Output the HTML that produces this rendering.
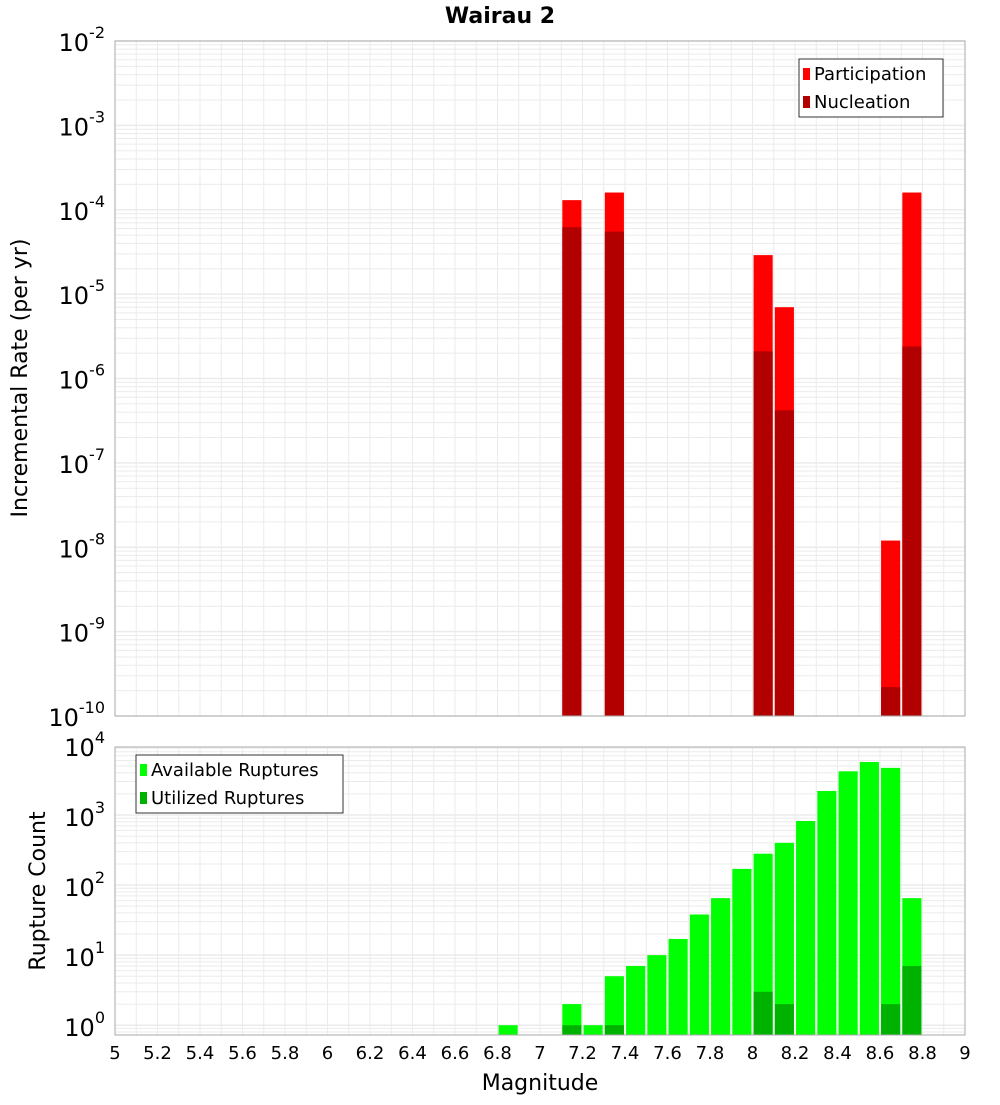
<!DOCTYPE html>
<html><head><meta charset="utf-8"><style>
body{margin:0;background:#fff;}
svg text{font-family:"DejaVu Sans","Liberation Sans",sans-serif;}
</style></head><body>
<svg id="chart" width="1000" height="1100" xmlns="http://www.w3.org/2000/svg">
<text x="500" y="23" text-anchor="middle" font-size="22" font-weight="bold">Wairau 2</text>
<g id="top"></g>
<g id="bot"></g>
<text transform="translate(27,378) rotate(-90)" text-anchor="middle" font-size="22">Incremental Rate (per yr)</text>
<text transform="translate(45,891) rotate(-90)" text-anchor="middle" font-size="22">Rupture Count</text>
<text x="540" y="1090" text-anchor="middle" font-size="22">Magnitude</text>
</svg>
<script>
const rateMags=[7.15,7.35,8.05,8.15,8.65,8.75];
const participation=[1.3e-4,1.6e-4,2.9e-5,7e-6,1.2e-8,1.6e-4];
const nucleation=[6.2e-5,5.5e-5,2.1e-6,4.2e-7,2.2e-10,2.4e-6];
const countMags=[6.85,7.15,7.25,7.35,7.45,7.55,7.65,7.75,7.85,7.95,8.05,8.15,8.25,8.35,8.45,8.55,8.65,8.75];
const available=[1,2,1,5,7,10,17,38,65,170,280,400,820,2200,4200,5700,4700,65];
const utilMags=[7.15,7.35,8.05,8.15,8.65,8.75];
const utilized=[1,1,3,2,2,7];
const xTicks=[5,5.2,5.4,5.6,5.8,6,6.2,6.4,6.6,6.8,7,7.2,7.4,7.6,7.8,8,8.2,8.4,8.6,8.8,9];
const topExps=[-10,-9,-8,-7,-6,-5,-4,-3,-2];
const botExps=[0,1,2,3,4];

const NS="http://www.w3.org/2000/svg";
const X0=115,X1=965;
const xs=m=>X0+(m-5)/4*(X1-X0);
const T={top:41,bot:716,lmin:-10,lmax:-2};
const B={top:747,bot:1035,lmin:-0.14,lmax:3.97};
function ys(P,v){return P.bot-(Math.log10(v)-P.lmin)/(P.lmax-P.lmin)*(P.bot-P.top);}
function el(tag,attrs,parent,txt){const e=document.createElementNS(NS,tag);for(const k in attrs)e.setAttribute(k,attrs[k]);if(txt!==undefined)e.textContent=txt;parent.appendChild(e);return e;}

function grid(g,P,exps){
  for(let m=5;m<=9.001;m+=0.1){const x=xs(m);const l=el('line',{x1:x,x2:x,y1:P.top,y2:P.bot,stroke:'#ebebeb','stroke-width':1},g);
    
    }
  const lo=Math.floor(P.lmin),hi=Math.ceil(P.lmax);
  for(let e=lo;e<=hi;e++){for(let k=1;k<10;k++){const v=k*Math.pow(10,e);const lv=Math.log10(v);if(lv<P.lmin||lv>P.lmax)continue;const y=ys(P,v);
    const l=el('line',{x1:X0,x2:X1,y1:y,y2:y,stroke:'#ebebeb','stroke-width':k==1?1.5:1},g);
    
    }}
  exps.forEach(e=>{const y=ys(P,Math.pow(10,e));
    const t=el('text',{x:X0-10,y:y+(P===T?10:11),'text-anchor':'end','font-size':24},g);
    
    
    el('tspan',{},t,'10');el('tspan',{dy:-13,'font-size':16},t,String(e));});
}
function bars(g,P,mags,vals,color,name){
  mags.forEach((m,i)=>{const y=ys(P,vals[i]);
    const r=el('rect',{x:xs(m-0.045),width:xs(m+0.045)-xs(m-0.045),y:y,height:P.bot-y,fill:color},g);
    
    });
}
function frame(g,P){const r=el('rect',{x:X0,y:P.top,width:X1-X0,height:P.bot-P.top,fill:'none',stroke:'#aaa','stroke-width':1},g);
  
  }
function legend(g,x,y,w,items){
  const r=el('rect',{x:x,y:y,width:w,height:58,fill:'#fff',stroke:'#333'},g);
  
  
  items.forEach((it,i)=>{const sw=el('rect',{x:x+4,y:y+9+i*28,width:7,height:12,fill:it[1]},g);
    
    
    const t=el('text',{x:x+15,y:y+21+i*28,'font-size':18},g,it[0]);
    
    });
}
const gt=document.getElementById('top'),gb=document.getElementById('bot');
grid(gt,T,topExps);grid(gb,B,botExps);
bars(gt,T,rateMags,participation,'#ff0000','participation-bar');
bars(gt,T,rateMags,nucleation,'#b20000','nucleation-bar');
bars(gb,B,countMags,available,'#00ff00','available-bar');
bars(gb,B,utilMags,utilized,'#00b200','utilized-bar');
frame(gt,T);frame(gb,B);
legend(gt,799,59,144,[['Participation','#ff0000'],['Nucleation','#b20000']]);
legend(gb,136,755,207,[['Available Ruptures','#00ff00'],['Utilized Ruptures','#00b200']]);
xTicks.forEach(m=>{const t=el('text',{x:xs(m),y:1059,'text-anchor':'middle','font-size':18},gb,String(m));
  
  });
</script>
</body></html>
